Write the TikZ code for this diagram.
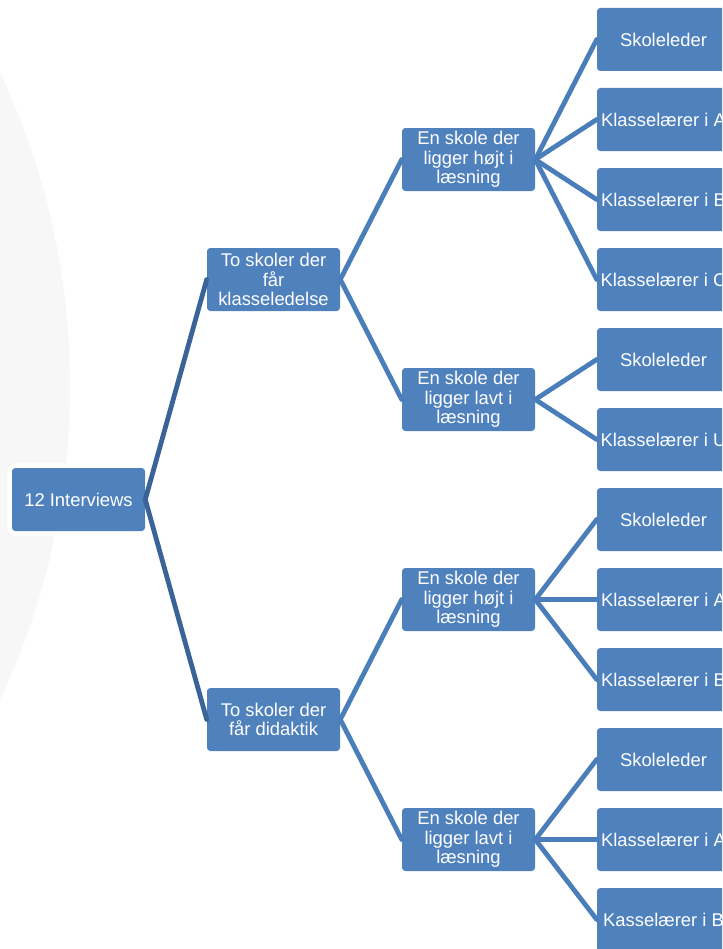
\documentclass[tikz,border=0pt]{standalone}
\usepackage{fontspec}
\setmainfont{Liberation Sans}
\definecolor{boks}{HTML}{4F81BD}
\definecolor{linje}{HTML}{4A7EBB}
\definecolor{rodlinje}{HTML}{3A6498}

\begin{document}
\begin{tikzpicture}[x=0.75pt, y=-0.75pt, line join=round, line cap=round,
	font=\fontsize{13.8}{14.6}\selectfont,
	boks/.style={fill=boks, text=white, rounded corners=2.5pt, minimum width=99.75pt, minimum height=47.25pt, inner sep=0pt, align=center},
	gren/.style={line width=3.6pt, linje}]
	% Baggrund
	\clip (0, 0) rectangle (722, 949);
	\fill[white] (0, 0) rectangle (722, 949);
	\fill[black!3] (-665, 386) circle (735);

	% Rod
	\node[boks, preaction={draw=white, line width=7pt}] (rod) at (78.5, 499.5) {12 Interviews};

	% Niveau 1
	\node[boks] (ledelse) at (273.5, 279.5) {To skoler der\\får\\klasseledelse};
	\node[boks] (didaktik) at (273.5, 719.5) {To skoler der\\får didaktik};

	% Niveau 2
	\node[boks] (hojA) at (468.5, 159.5) {En skole der\\ligger højt i\\læsning};
	\node[boks] (lavA) at (468.5, 399.5) {En skole der\\ligger lavt i\\læsning};
	\node[boks] (hojB) at (468.5, 599.5) {En skole der\\ligger højt i\\læsning};
	\node[boks] (lavB) at (468.5, 839.5) {En skole der\\ligger lavt i\\læsning};

	% Niveau 3: interviewpersoner
	\foreach \i/\navn in {0/Skoleleder, 1/Klasselærer i A, 2/Klasselærer i B, 3/Klasselærer i C,
		4/Skoleleder, 5/Klasselærer i U, 6/Skoleleder, 7/Klasselærer i A, 8/Klasselærer i B,
		9/Skoleleder, 10/Klasselærer i A, 11/Kasselærer i B} {
		\node[boks] (p\i) at (663.5, 39.5 + 80*\i) {\navn};
	}

	% Grene
	\draw[gren, rodlinje] (rod.east) -- (ledelse.west);
	\draw[gren, rodlinje] (rod.east) -- (didaktik.west);
	\draw[gren] (ledelse.east) -- (hojA.west);
	\draw[gren] (ledelse.east) -- (lavA.west);
	\draw[gren] (didaktik.east) -- (hojB.west);
	\draw[gren] (didaktik.east) -- (lavB.west);
	\foreach \f/\t in {hojA/0, hojA/1, hojA/2, hojA/3, lavA/4, lavA/5,
		hojB/6, hojB/7, hojB/8, lavB/9, lavB/10, lavB/11} {
		\draw[gren] (\f.east) -- (p\t.west);
	}
\end{tikzpicture}
\end{document}
